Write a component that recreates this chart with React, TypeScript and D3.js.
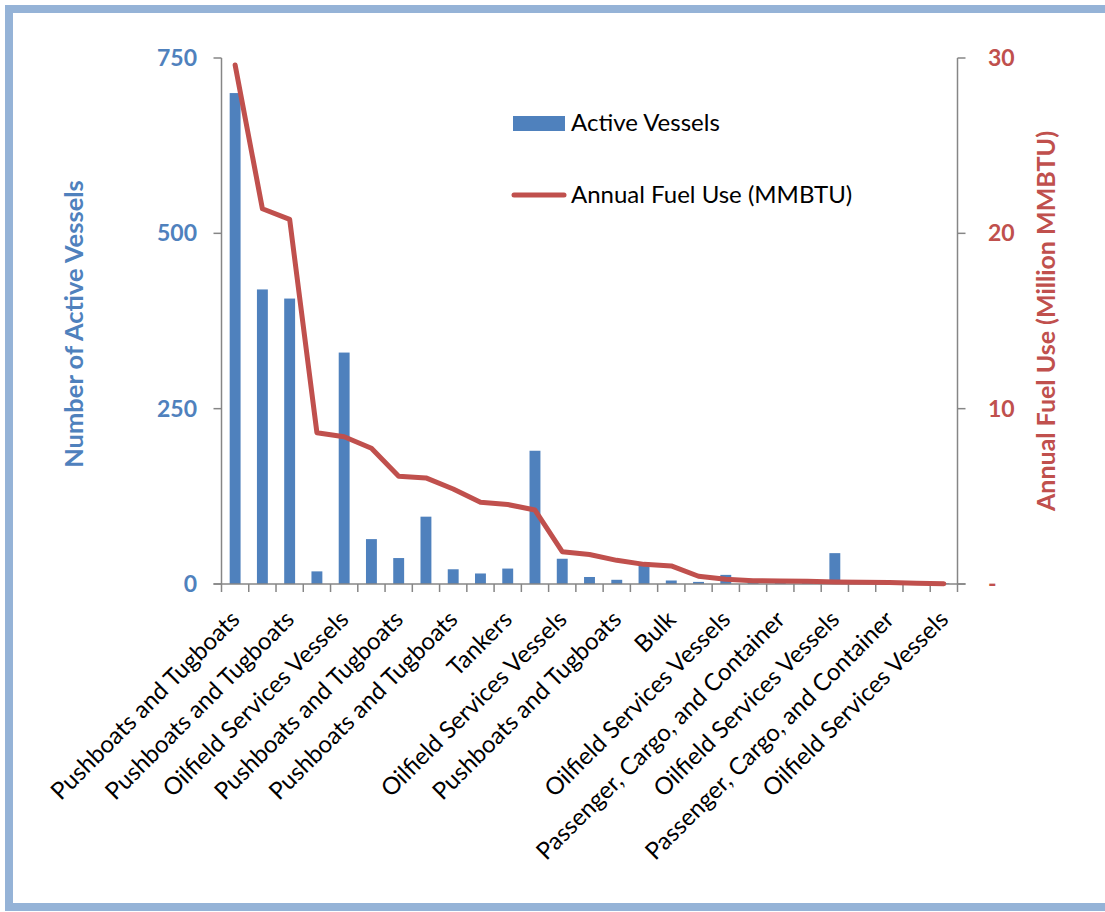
import React, { useEffect } from "react";
import * as d3 from "d3";

const categories = [
  "Pushboats and Tugboats",
  "Oilfield Services Vessels",
  "Pushboats and Tugboats",
  "Tankers",
  "Oilfield Services Vessels",
  "Pushboats and Tugboats",
  "Pushboats and Tugboats",
  "Oilfield Services Vessels",
  "Pushboats and Tugboats",
  "Bulk",
  "Tankers",
  "Oilfield Services Vessels",
  "Oilfield Services Vessels",
  "Passenger, Cargo, and Container",
  "Pushboats and Tugboats",
  "Tankers",
  "Bulk",
  "Passenger, Cargo, and Container",
  "Oilfield Services Vessels",
  "Bulk",
  "Passenger, Cargo, and Container",
  "Tankers",
  "Oilfield Services Vessels",
  "Bulk",
  "Passenger, Cargo, and Container",
  "Tankers",
  "Oilfield Services Vessels",
];

const activeVessels = [700, 420, 407, 18, 330, 64, 37, 96, 21, 15, 22, 190, 36, 10, 6, 31, 5, 3, 13, 2, 2, 2, 44, 1, 1, 1, 1];
const annualFuelUse = [29.6, 21.4, 20.8, 8.63, 8.4, 7.74, 6.15, 6.05, 5.42, 4.66, 4.53, 4.22, 1.84, 1.68, 1.35, 1.12, 1.03, 0.44, 0.27, 0.19, 0.17, 0.15, 0.11, 0.1, 0.08, 0.04, 0.01];

const leftTicks = [0, 250, 500, 750];
const rightTicks = [0, 10, 20, 30];
const rightTickLabels = ["-", "10", "20", "30"];

const W = 1105;
const H = 912;
const plotLeft = 221.5;
const plotRight = 957.5;
const plotTop = 58;
const plotBottom = 584;

const BLUE = "#4F81BD";
const RED = "#C0504D";
const AXIS = "#868686";
const FONT = "Lato, 'Open Sans', sans-serif";

export default function App() {
  useEffect(() => {
    document.body.style.margin = "0";
  }, []);

  const idx = categories.map((_, i) => String(i));
  const x = d3.scaleBand<string>().domain(idx).range([plotLeft, plotRight]).paddingInner(0.6).paddingOuter(0.3);
  const yL = d3.scaleLinear().domain([0, 750]).range([plotBottom, plotTop]);
  const yR = d3.scaleLinear().domain([0, 30]).range([plotBottom, plotTop]);
  const step = x.step();
  const cx = (i: number) => (x(String(i)) as number) + x.bandwidth() / 2;

  const line = d3
    .line<number>()
    .x((_, i) => cx(i))
    .y((d) => yR(d));

  const boundaries = d3.range(categories.length + 1).map((i) => plotLeft + i * step);

  return (
    <svg width={W} height={H} style={{ position: "absolute", left: 0, top: 0, background: "#fff" }}>
      <rect x={0} y={0} width={W} height={H} fill="#fff" />
      {/* frame */}
      <rect x={9} y={9} width={W + 20} height={H - 14} fill="none" stroke="#95B3D7" strokeWidth={8} />

      {/* bars */}
      {activeVessels.map((v, i) => (
        <rect key={i} x={x(String(i))} y={yL(v)} width={x.bandwidth()} height={plotBottom - yL(v)} fill={BLUE} />
      ))}

      {/* axes */}
      <g stroke={AXIS} strokeWidth={1.5} fill="none">
        <line x1={plotLeft} x2={plotLeft} y1={plotTop} y2={plotBottom} />
        <line x1={plotRight} x2={plotRight} y1={plotTop} y2={plotBottom} />
        <line x1={plotLeft - 8} x2={plotRight + 8} y1={plotBottom} y2={plotBottom} />
        {leftTicks.map((t) => (
          <line key={"l" + t} x1={plotLeft - 8} x2={plotLeft} y1={yL(t)} y2={yL(t)} />
        ))}
        {rightTicks.map((t) => (
          <line key={"r" + t} x1={plotRight} x2={plotRight + 8} y1={yR(t)} y2={yR(t)} />
        ))}
        {boundaries.map((b, i) => (
          <line key={"b" + i} x1={b} x2={b} y1={plotBottom} y2={plotBottom + 8} />
        ))}
      </g>

      {/* line */}
      <path d={line(annualFuelUse) || ""} fill="none" stroke={RED} strokeWidth={5} strokeLinejoin="round" strokeLinecap="round" />

      {/* left tick labels */}
      {leftTicks.map((t) => (
        <text key={"lt" + t} x={197} y={yL(t)} dy="0.35em" textAnchor="end" fontFamily={FONT} fontWeight="bold" fontSize={23} fill={BLUE}>
          {t}
        </text>
      ))}
      {/* right tick labels */}
      {rightTicks.map((t, i) => (
        <text key={"rt" + t} x={988} y={yR(t)} dy="0.35em" textAnchor="start" fontFamily={FONT} fontWeight="bold" fontSize={23} fill={RED}>
          {rightTickLabels[i]}
        </text>
      ))}

      {/* axis titles */}
      <text transform={`translate(83,${324}) rotate(-90)`} textAnchor="middle" fontFamily={FONT} fontWeight="bold" fontSize={25.5} fill={BLUE}>
        Number of Active Vessels
      </text>
      <text transform={`translate(1055,${321}) rotate(-90)`} textAnchor="middle" fontFamily={FONT} fontWeight="bold" fontSize={25} fill={RED}>
        Annual Fuel Use (Million MMBTU)
      </text>

      {/* x labels (every other category) */}
      {categories.map((c, i) =>
        i % 2 === 0 ? (
          <text key={"x" + i} transform={`translate(${cx(i) + 6},${621}) rotate(-45)`} textAnchor="end" fontFamily={FONT} fontSize={24} fill="#000">
            {c}
          </text>
        ) : null
      )}

      {/* legend */}
      <rect x={513} y={116} width={52} height={15} fill={BLUE} />
      <text x={571} y={131} fontFamily={FONT} fontSize={24} fill="#000">
        Active Vessels
      </text>
      <line x1={514} x2={564} y1={195} y2={195} stroke={RED} strokeWidth={5} strokeLinecap="round" />
      <text x={571} y={203} fontFamily={FONT} fontSize={24} fill="#000">
        Annual Fuel Use (MMBTU)
      </text>
    </svg>
  );
}
